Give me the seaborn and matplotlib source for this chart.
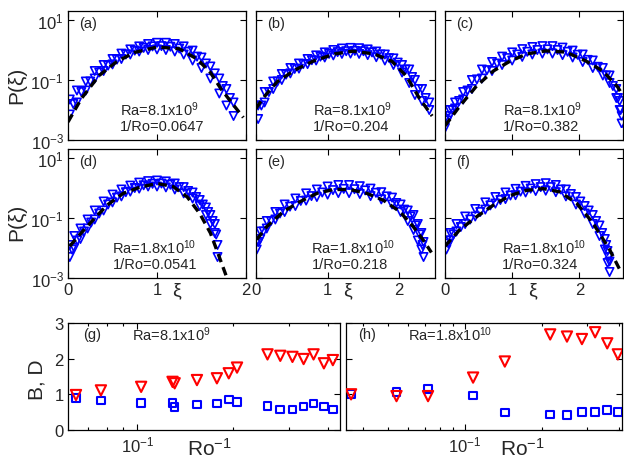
import numpy as np
import matplotlib
matplotlib.use('Agg')
import matplotlib.pyplot as plt
from matplotlib.ticker import FixedLocator, NullLocator, NullFormatter, LogLocator
import seaborn as sns

# ---- PDF panels (a)-(f): xi and log10 P(xi) ----
# upper / lower edge of the triangle band, a middle row, plus the dashed fit
a_xi = [0.02, 0.1, 0.2, 0.3, 0.4, 0.5, 0.6, 0.7, 0.8, 0.9, 1.0, 1.1, 1.2, 1.3, 1.4, 1.5, 1.6, 1.7, 1.78, 1.86]
a_hi = [-1.65, -1.35, -1.05, -0.7, -0.5, -0.3, -0.12, 0.02, 0.12, 0.2, 0.24, 0.24, 0.2, 0.12, -0.02, -0.25, -0.55, -0.95, -1.3, -1.75]
a_lo = [-2.15, -1.75, -1.35, -0.95, -0.7, -0.48, -0.3, -0.15, -0.05, 0.0, 0.02, 0.0, -0.05, -0.15, -0.35, -0.6, -0.95, -1.45, -1.85, -2.2]
a_mid_xi = [0.06, 0.15, 0.25, 0.35, 0.45, 0.55, 0.65, 0.75, 0.85, 0.95, 1.05, 1.15, 1.25, 1.35, 1.45, 1.55, 1.65, 1.74, 1.82]
a_mid = [-1.8, -1.4, -1.05, -0.75, -0.52, -0.32, -0.15, -0.02, 0.07, 0.12, 0.13, 0.11, 0.05, -0.06, -0.22, -0.45, -0.78, -1.2, -1.6]
a_fit_xi = [0.0, 0.15, 0.35, 0.55, 0.75, 1.0, 1.25, 1.45, 1.6, 1.72, 1.85, 1.97]
a_fit_lp = [-2.4, -1.62, -0.85, -0.38, -0.08, 0.1, 0.04, -0.3, -0.75, -1.3, -1.8, -2.25]

b_xi = [0.03, 0.12, 0.24, 0.36, 0.48, 0.6, 0.72, 0.84, 0.96, 1.08, 1.2, 1.32, 1.44, 1.56, 1.68, 1.8, 1.92, 2.04, 2.14, 2.22, 2.32, 2.42]
b_hi = [-1.85, -1.4, -1.05, -0.8, -0.6, -0.45, -0.3, -0.18, -0.08, 0.0, 0.05, 0.07, 0.06, 0.02, -0.05, -0.15, -0.28, -0.5, -0.65, -1.0, -1.3, -1.75]
b_lo = [-2.3, -1.75, -1.3, -1.0, -0.78, -0.62, -0.47, -0.35, -0.25, -0.18, -0.13, -0.12, -0.13, -0.17, -0.24, -0.35, -0.5, -0.75, -1.1, -1.5, -1.7, -2.0]
b_mid_xi = [0.075, 0.18, 0.30, 0.42, 0.54, 0.66, 0.78, 0.90, 1.02, 1.14, 1.26, 1.38, 1.50, 1.62, 1.74, 1.86, 1.98, 2.09, 2.18, 2.27, 2.37]
b_mid = [-1.85, -1.4, -1.05, -0.82, -0.63, -0.47, -0.34, -0.22, -0.13, -0.07, -0.04, -0.03, -0.04, -0.08, -0.15, -0.27, -0.42, -0.65, -0.9, -1.3, -1.6]
b_fit_xi = [0.0, 0.1, 0.3, 0.55, 0.8, 1.1, 1.35, 1.65, 1.9, 2.1, 2.28, 2.46]
b_fit_lp = [-1.95, -1.6, -1.05, -0.66, -0.37, -0.13, -0.04, -0.13, -0.38, -0.87, -1.6, -2.2]

c_xi = [0.0, 0.07, 0.15, 0.27, 0.4, 0.55, 0.7, 0.85, 1.0, 1.15, 1.3, 1.45, 1.6, 1.75, 1.9, 2.05, 2.2, 2.35, 2.45, 2.55, 2.6, 2.63]
c_hi = [-2.3, -2.0, -1.75, -1.4, -1.0, -0.65, -0.4, -0.22, -0.08, 0.03, 0.1, 0.13, 0.13, 0.08, -0.02, -0.15, -0.35, -0.6, -0.85, -1.3, -1.7, -2.2]
c_lo = [-2.6, -2.2, -1.95, -1.65, -1.3, -0.95, -0.7, -0.5, -0.35, -0.23, -0.15, -0.12, -0.12, -0.17, -0.25, -0.4, -0.6, -0.85, -1.1, -1.6, -2.0, -2.45]
c_mid_xi = [0.035, 0.11, 0.21, 0.335, 0.475, 0.625, 0.775, 0.925, 1.075, 1.225, 1.375, 1.525, 1.675, 1.825, 1.975, 2.125, 2.275, 2.4, 2.5, 2.575, 2.615]
c_mid = [-2.35, -2.0, -1.7, -1.35, -0.98, -0.67, -0.45, -0.27, -0.15, -0.06, 0.0, 0.02, 0.0, -0.06, -0.16, -0.33, -0.56, -0.85, -1.2, -1.6, -2.0]
c_fit_xi = [0.0, 0.22, 0.47, 0.72, 0.97, 1.22, 1.5, 1.8, 2.1, 2.35, 2.57, 2.65]
c_fit_lp = [-2.53, -1.87, -1.2, -0.7, -0.37, -0.13, -0.03, -0.07, -0.37, -0.7, -1.23, -1.53]

d_xi = [0.02, 0.07, 0.14, 0.22, 0.3, 0.4, 0.5, 0.6, 0.7, 0.8, 0.9, 1.0, 1.1, 1.2, 1.3, 1.4, 1.48, 1.55, 1.6, 1.65, 1.68]
d_hi = [-1.9, -1.6, -1.35, -1.05, -0.75, -0.45, -0.22, -0.05, 0.08, 0.18, 0.23, 0.25, 0.22, 0.15, 0.03, -0.15, -0.4, -0.65, -0.9, -1.2, -1.9]
d_lo = [-2.3, -2.0, -1.7, -1.35, -1.05, -0.75, -0.48, -0.28, -0.12, -0.02, 0.05, 0.05, 0.02, -0.05, -0.18, -0.35, -0.6, -0.9, -1.2, -1.5, -2.3]
d_mid_xi = [0.045, 0.105, 0.18, 0.26, 0.35, 0.45, 0.55, 0.65, 0.75, 0.85, 0.95, 1.05, 1.15, 1.25, 1.35, 1.44, 1.515, 1.575, 1.625, 1.665]
d_mid = [-2.05, -1.75, -1.45, -1.15, -0.85, -0.55, -0.32, -0.14, 0.0, 0.09, 0.14, 0.15, 0.11, 0.03, -0.1, -0.3, -0.55, -0.8, -1.1, -1.55]
d_fit_xi = [0.02, 0.13, 0.28, 0.44, 0.62, 0.81, 1.0, 1.18, 1.34, 1.48, 1.6, 1.7, 1.78]
d_fit_lp = [-1.94, -1.56, -1.07, -0.57, -0.18, 0.03, 0.15, 0.05, -0.3, -0.85, -1.5, -2.3, -2.95]

e_xi = [0.01, 0.06, 0.15, 0.27, 0.4, 0.55, 0.7, 0.85, 1.0, 1.15, 1.3, 1.45, 1.6, 1.75, 1.9, 2.02, 2.12, 2.2, 2.26, 2.31, 2.34]
e_hi = [-1.8, -1.45, -1.1, -0.8, -0.55, -0.35, -0.18, -0.05, 0.05, 0.1, 0.1, 0.06, -0.02, -0.14, -0.32, -0.55, -0.75, -0.9, -1.2, -1.5, -1.8]
e_lo = [-2.05, -1.7, -1.35, -1.05, -0.8, -0.6, -0.42, -0.3, -0.22, -0.17, -0.17, -0.2, -0.27, -0.38, -0.55, -0.8, -1.1, -1.4, -1.75, -2.05, -2.3]
e_mid_xi = [0.035, 0.105, 0.21, 0.335, 0.475, 0.625, 0.775, 0.925, 1.075, 1.225, 1.375, 1.525, 1.675, 1.825, 1.96, 2.07, 2.16, 2.23, 2.285, 2.325]
e_mid = [-1.8, -1.45, -1.1, -0.85, -0.62, -0.43, -0.27, -0.15, -0.07, -0.03, -0.04, -0.08, -0.16, -0.28, -0.5, -0.72, -0.95, -1.25, -1.55, -1.9]
e_fit_xi = [0.01, 0.15, 0.38, 0.61, 0.85, 1.08, 1.31, 1.55, 1.78, 2.01, 2.2, 2.34, 2.45]
e_fit_lp = [-1.72, -1.29, -0.79, -0.46, -0.18, -0.05, -0.05, -0.18, -0.41, -0.79, -1.3, -1.75, -2.15]

f_xi = [0.02, 0.08, 0.17, 0.3, 0.45, 0.6, 0.75, 0.9, 1.05, 1.2, 1.35, 1.5, 1.65, 1.8, 1.95, 2.08, 2.2, 2.3, 2.38, 2.42, 2.45]
f_hi = [-1.75, -1.5, -1.2, -0.95, -0.7, -0.48, -0.3, -0.15, -0.03, 0.07, 0.13, 0.16, 0.1, -0.05, -0.3, -0.6, -0.9, -1.25, -1.7, -2.1, -2.45]
f_lo = [-2.05, -1.75, -1.45, -1.2, -0.95, -0.72, -0.52, -0.37, -0.24, -0.15, -0.1, -0.09, -0.14, -0.28, -0.55, -0.85, -1.2, -1.6, -2.05, -2.5, -2.8]
f_mid_xi = [0.05, 0.125, 0.235, 0.375, 0.525, 0.675, 0.825, 0.975, 1.125, 1.275, 1.425, 1.575, 1.725, 1.875, 2.015, 2.14, 2.25, 2.34, 2.40, 2.435]
f_mid = [-1.85, -1.55, -1.3, -1.05, -0.8, -0.58, -0.4, -0.25, -0.12, -0.02, 0.03, 0.03, -0.05, -0.2, -0.45, -0.75, -1.1, -1.5, -1.9, -2.3]
f_fit_xi = [0.0, 0.22, 0.47, 0.72, 0.97, 1.21, 1.46, 1.71, 1.96, 2.2, 2.45, 2.62]
f_fit_lp = [-1.94, -1.39, -0.96, -0.57, -0.25, -0.08, -0.02, -0.13, -0.51, -1.16, -2.05, -2.8]

pdf_labels = ['(a)', '(b)', '(c)', '(d)', '(e)', '(f)']
pdf_ra = ['Ra=8.1x10$^{9}$'] * 3 + ['Ra=1.8x10$^{10}$'] * 3
pdf_ro = ['1/Ro=0.0647', '1/Ro=0.204', '1/Ro=0.382', '1/Ro=0.0541', '1/Ro=0.218', '1/Ro=0.324']
pdf_xmax = [2.0, 2.5, 2.65, 2.0, 2.5, 2.65]

# ---- (g), (h): B (red) and D (blue) against 1/Ro ----
ro_g = [0.064, 0.0767, 0.1027, 0.129, 0.131, 0.154, 0.178, 0.194, 0.206, 0.257, 0.282, 0.308, 0.334, 0.359, 0.387, 0.413]
B_g = [0.98, 1.11, 1.21, 1.35, 1.31, 1.40, 1.45, 1.59, 1.75, 2.12, 2.08, 2.05, 1.99, 2.12, 1.87, 1.96]
D_g = [0.89, 0.83, 0.75, 0.75, 0.64, 0.72, 0.74, 0.85, 0.79, 0.68, 0.57, 0.58, 0.66, 0.74, 0.66, 0.57]

ro_h = [0.0359, 0.054, 0.0717, 0.1075, 0.143, 0.215, 0.250, 0.286, 0.322, 0.359, 0.395]
B_h = [1.0, 0.95, 0.95, 1.47, 1.92, 2.68, 2.62, 2.55, 2.74, 2.43, 2.12]
D_h = [1.01, 1.07, 1.15, 0.97, 0.49, 0.44, 0.42, 0.51, 0.50, 0.56, 0.51]

sns.set_style('ticks')
plt.rcParams['font.family'] = ['Liberation Sans', 'DejaVu Sans']
plt.rcParams['mathtext.fontset'] = 'custom'
plt.rcParams['mathtext.rm'] = 'Liberation Sans'
plt.rcParams['mathtext.default'] = 'regular'

fig = plt.figure(figsize=(6.24, 4.6), dpi=100)
W, H = 624.0, 460.0

def box(x0, x1, y0, y1):
    return [x0 / W, 1 - y1 / H, (x1 - x0) / W, (y1 - y0) / H]

cols = [(68, 246), (256, 435), (445, 623)]
rows = [(12, 141), (150, 279)]
blue = '#0000ff'
red = '#ff0000'

def style_ax(ax):
    for s in ax.spines.values():
        s.set_linewidth(0.9)
        s.set_color('k')
    ax.tick_params(which='both', direction='in', top=True, right=True,
                   labelsize=12, pad=3, width=0.8, color='k')
    ax.tick_params(which='major', length=4)
    ax.tick_params(which='minor', length=2.5)

pdf_data = [(a_xi, a_hi, a_lo, a_mid_xi, a_mid, a_fit_xi, a_fit_lp),
            (b_xi, b_hi, b_lo, b_mid_xi, b_mid, b_fit_xi, b_fit_lp),
            (c_xi, c_hi, c_lo, c_mid_xi, c_mid, c_fit_xi, c_fit_lp),
            (d_xi, d_hi, d_lo, d_mid_xi, d_mid, d_fit_xi, d_fit_lp),
            (e_xi, e_hi, e_lo, e_mid_xi, e_mid, e_fit_xi, e_fit_lp),
            (f_xi, f_hi, f_lo, f_mid_xi, f_mid, f_fit_xi, f_fit_lp)]
xi_lab_x = [0.61, 0.51, 0.49]

for i, (xi, hi, lo, mx, mid, fx, fl) in enumerate(pdf_data):
    r, c = divmod(i, 3)
    ax = fig.add_axes(box(cols[c][0], cols[c][1], rows[r][0], rows[r][1]))
    for bx, band in ((xi, hi), (xi, lo), (mx, mid)):
        sns.scatterplot(x=bx, y=10 ** np.array(band), ax=ax, marker='v', s=36,
                        fc='none', ec=blue, linewidth=1.2, zorder=2)
    sns.lineplot(x=fx, y=10 ** np.array(fl), ax=ax, color='k', lw=2.4,
                 linestyle=(0, (2.6, 1.6)), sort=False, estimator=None, zorder=3)
    ax.set_yscale('log')
    ax.set_ylim(1e-3, 10 ** 1.3)
    ax.set_xlim(0, pdf_xmax[i])
    ax.yaxis.set_major_locator(FixedLocator([1e-3, 1e-1, 1e1]))
    ax.yaxis.set_minor_locator(NullLocator())
    ax.set_xticks([0, 1, 2])
    ax.set_xlabel('')
    ax.set_ylabel('')
    style_ax(ax)
    if c > 0:
        ax.tick_params(labelleft=False)
    if r == 0:
        ax.tick_params(labelbottom=False)
    else:
        ax.text(xi_lab_x[c], -0.095, 'ξ', transform=ax.transAxes, ha='center', va='center', fontsize=14)
    ax.text(0.06, 0.905, pdf_labels[i], transform=ax.transAxes, ha='left', va='center', fontsize=10.5)
    tx = [0.29, 0.32, 0.326][c] if r == 0 else [0.25, 0.31, 0.32][c]
    ax.text(tx, 0.245, pdf_ra[i], transform=ax.transAxes, ha='left', va='center', fontsize=10.5)
    ax.text(tx, 0.11, pdf_ro[i], transform=ax.transAxes, ha='left', va='center', fontsize=10.5)

fig.text(17 / W, 1 - 85 / H, 'P(ξ)', rotation=90, ha='center', va='center', fontsize=15)
fig.text(17 / W, 1 - 222 / H, 'P(ξ)', rotation=90, ha='center', va='center', fontsize=15)

bottom = [(68, 340, ro_g, B_g, D_g, (0.0604, 0.435), '(g)', 'Ra=8.1x10$^{9}$', 0.235, 0.52),
          (346, 622, ro_h, B_h, D_h, (0.0343, 0.41), '(h)', 'Ra=1.8x10$^{10}$', 0.225, 0.64)]
for j, (x0, x1, ro, B, D, xl, lab, ra, rax, rox) in enumerate(bottom):
    ax = fig.add_axes(box(x0, x1, 324, 431))
    sns.scatterplot(x=ro, y=D, ax=ax, marker='s', s=30, fc='none', ec=blue, linewidth=1.5, zorder=2)
    sns.scatterplot(x=ro, y=B, ax=ax, marker='v', s=55, fc='none', ec=red, linewidth=1.5, zorder=3)
    ax.set_xscale('log')
    ax.set_xlim(*xl)
    ax.set_ylim(0, 3)
    ax.set_yticks([0, 1, 2, 3])
    ax.xaxis.set_major_locator(FixedLocator([0.1]))
    ax.xaxis.set_minor_locator(LogLocator(base=10, subs=np.arange(2, 10)))
    ax.xaxis.set_minor_formatter(NullFormatter())
    ax.set_xlabel('')
    ax.set_ylabel('')
    style_ax(ax)
    if j == 1:
        ax.tick_params(labelleft=False)
    ax.text(0.055 if j == 0 else 0.043, 0.9, lab, transform=ax.transAxes, ha='left', va='center', fontsize=10.5)
    ax.text(rax, 0.9, ra, transform=ax.transAxes, ha='left', va='center', fontsize=10.5)
    ax.text(rox, -0.165, 'Ro$^{-1}$', transform=ax.transAxes, ha='center', va='center', fontsize=15)

fig.text(37 / W, 1 - 380 / H, 'B, D', rotation=90, ha='center', va='center', fontsize=15)

fig.savefig('out.png', dpi=100)
